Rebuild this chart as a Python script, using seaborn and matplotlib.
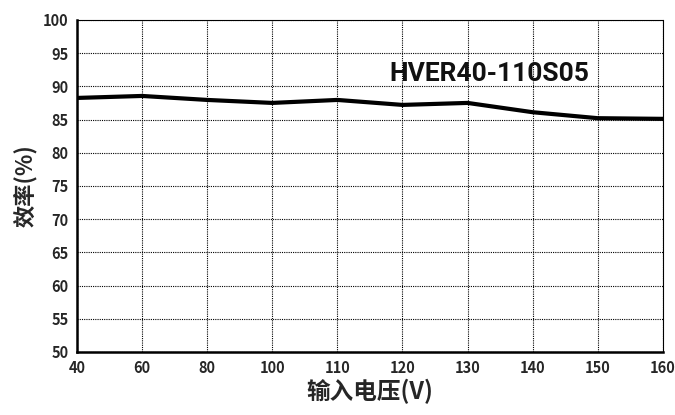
import matplotlib
matplotlib.use('Agg')
import matplotlib.pyplot as plt
import seaborn as sns
import pandas as pd

# Data
voltage_labels = ['40', '60', '80', '100', '110', '120', '130', '140', '150', '160']
efficiency = [88.25, 88.55, 87.95, 87.5, 87.95, 87.2, 87.5, 86.1, 85.2, 85.1]
y_ticks = [50, 55, 60, 65, 70, 75, 80, 85, 90, 95, 100]
model_name = 'HVER40-110S05'

sns.set_theme(style='white')
plt.rcParams['font.family'] = ['Noto Sans CJK SC', 'DejaVu Sans']

df = pd.DataFrame({'pos': range(len(voltage_labels)), 'eff': efficiency})

fig = plt.figure(figsize=(6.75, 4.15), dpi=100)
ax = fig.add_axes([0.114, 0.152, 0.868, 0.8])

sns.lineplot(data=df, x='pos', y='eff', ax=ax, color='black', linewidth=3)

ax.set_xlim(0, len(voltage_labels) - 1)
ax.set_ylim(50, 100)
ax.set_xticks(range(len(voltage_labels)))
ax.set_xticklabels(voltage_labels)
ax.set_yticks(y_ticks)

ax.grid(True, color='black', linestyle=(0, (1, 1)), linewidth=0.8)
for s in ['top', 'right']:
    ax.spines[s].set_linestyle((0, (1, 1)))
    ax.spines[s].set_linewidth(0.8)
    ax.spines[s].set_color('black')
for s in ['left', 'bottom']:
    ax.spines[s].set_linewidth(1.8)
    ax.spines[s].set_color('black')

ax.tick_params(axis='both', length=0, labelsize=10.5, pad=6)
for lbl in ax.get_xticklabels() + ax.get_yticklabels():
    lbl.set_fontweight('bold')

ax.set_xlabel('输入电压(V)', fontsize=17, fontweight='bold', labelpad=2)
ax.set_ylabel('效率(%)', fontsize=16, fontweight='bold', labelpad=4)

ax.text(6.33, 91.8, model_name, fontsize=19, fontweight='bold',
        ha='center', va='center', color='#111111', family=['Roboto', 'DejaVu Sans'])

fig.savefig('out.png', dpi=100)
plt.close(fig)
